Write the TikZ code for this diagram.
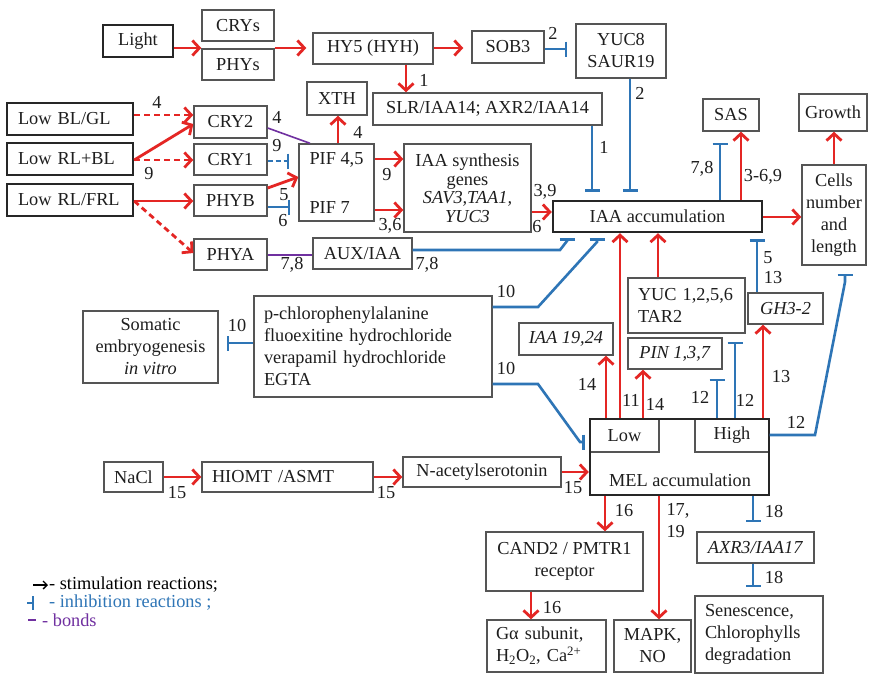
\documentclass[tikz,border=0pt]{standalone}
\usepackage{fontspec}
\setmainfont{Liberation Serif}
\usetikzlibrary{arrows.meta}
\definecolor{stimred}{RGB}{228,38,36}
\definecolor{inhblue}{RGB}{46,117,182}
\definecolor{bondpurple}{RGB}{112,48,160}
\definecolor{boxgray}{RGB}{85,85,85}
\definecolor{txt}{RGB}{30,30,30}
% box from its corner coordinates: [options]{name}{x1}{y1}{x2}{y2}{text}
\newcommand\nodebox[7][]{\node[box,minimum width={#5-#3},minimum height={#6-#4},#1] (#2) at ({(#3+#5)/2},{(#4+#6)/2}) {#7};}
\begin{document}
\begin{tikzpicture}[x=1pt,y=-1pt,
  every node/.style={font=\fontsize{18.3}{22}\selectfont},
  box/.style={draw=boxgray,line width=1.4pt,inner sep=1pt,fill=white,text=txt,align=center},
  thickbox/.style={draw=black!85,line width=2.4pt},
  leftbox/.style={align=left,text width=104pt,inner xsep=11pt},
  lbl/.style={text=txt,inner sep=0pt},
  stim/.style={draw=stimred,line width=2.8pt,-{Straight Barb[length=7pt,width=15pt]}},
  stimd/.style={stim,dash pattern=on 6pt off 4pt},
  inh/.style={draw=inhblue,line width=2.6pt,-{Bar[width=15pt]}},
  inhd/.style={inh,dash pattern=on 5pt off 3pt},
  bond/.style={draw=bondpurple,line width=1.6pt}]
\fill[white] (0,0) rectangle (871,675);
\useasboundingbox (0,0) rectangle (871,675);

% light signalling
\nodebox[thickbox]{light}{103}{25}{173}{57}{Light}
\nodebox{crys}{202}{10}{274}{41}{CRYs}
\nodebox{phys}{202}{49}{274}{80}{PHYs}
\nodebox{hy5}{313}{33}{433}{64}{HY5 (HYH)}
\nodebox{sob3}{472}{31}{544}{63}{SOB3}
\nodebox{yuceight}{576}{24}{666}{78}{YUC8\\SAUR19}
\nodebox{slr}{373}{93}{602}{125}{SLR/IAA14; AXR2/IAA14}
\nodebox{xth}{307}{82}{367}{115}{XTH}
\nodebox[align=left]{pif}{299}{144}{374}{221}{PIF 4,5\\[27pt]PIF 7}
\nodebox[font=\fontsize{18.3}{18.5}\selectfont]{iaasyn}{404}{144}{531}{232}{IAA synthesis\\genes\\\textit{SAV3,TAA1,}\\\textit{YUC3}}
\nodebox[thickbox]{iaaacc}{553}{201}{762}{232}{IAA accumulation}
\nodebox{sas}{703}{99}{759}{131}{SAS}
\nodebox{growth}{799}{94}{867}{131}{Growth}
\nodebox{cells}{802}{165}{866}{265}{Cells\\number\\and\\length}

% light quality inputs and photoreceptors
\nodebox[thickbox,leftbox]{lowblgl}{7}{103}{133}{135}{Low BL/GL}
\nodebox[thickbox,leftbox]{lowrlbl}{7}{143}{133}{175}{Low RL+BL}
\nodebox[thickbox,leftbox]{lowrlfrl}{7}{184}{133}{216}{Low RL/FRL}
\nodebox{cry2}{194}{106}{267}{138}{CRY2}
\nodebox{cry1}{194}{144}{267}{175}{CRY1}
\nodebox{phyb}{194}{185}{267}{216}{PHYB}
\nodebox{phya}{194}{239}{267}{270}{PHYA}
\nodebox{auxiaa}{313}{238}{412}{269}{AUX/IAA}

% inhibitors and melatonin side
\nodebox[align=left,text width=218pt,inner xsep=10pt]{pchl}{254}{296}{492}{397}{p-chlorophenylalanine\\fluoexitine hydrochloride\\verapamil hydrochloride\\EGTA}
\nodebox{somatic}{83}{311}{218}{383}{Somatic\\embryogenesis\\\textit{in vitro}}
\nodebox{iaa1924}{519}{323}{613}{355}{\textit{IAA 19,24}}
\nodebox[align=left,text width=97pt,inner xsep=10pt]{yuc}{628}{278}{745}{333}{YUC 1,2,5,6\\TAR2}
\nodebox{pin}{628}{338}{722}{369}{\textit{PIN 1,3,7}}
\nodebox{gh3}{748}{293}{823}{324}{\textit{GH3-2}}
\nodebox{low}{590}{419}{659}{452}{Low}
\nodebox{high}{695}{419}{769}{452}{High}
\nodebox[thickbox,fill=none]{mel}{590}{419}{769}{495}{}
\node[lbl] (meltxt) at (680,480) {MEL accumulation};
\nodebox{nacl}{104}{462}{163}{492}{NaCl}
\nodebox[align=left,text width=151pt,inner xsep=10pt]{hiomt}{202}{462}{373}{492}{HIOMT /ASMT}
\nodebox{nacet}{403}{457}{561}{487}{N-acetylserotonin}
\nodebox{cand2}{486}{532}{643}{591}{CAND2 / PMTR1\\receptor}
\nodebox[align=left,text width=101pt,inner xsep=9pt]{galpha}{487}{620}{606}{672}{Gα subunit,\\H\textsubscript{2}O\textsubscript{2}, Ca\textsuperscript{2+}}
\nodebox{mapk}{614}{620}{691}{672}{MAPK,\\NO}
\nodebox{axr3}{697}{532}{814}{563}{\textit{AXR3/IAA17}}
\nodebox[align=left,text width=108pt,inner xsep=10pt]{senes}{695}{596}{823}{673}{Senescence,\\Chlorophylls\\degradation}

% connectors: light pathway
\draw[stim] (light.east |- 0,48) -- (crys.west |- 0,48);
\draw[stim,shorten >=6pt] (crys.east |- 0,48) -- (hy5.west |- 0,48);
\draw[stim,shorten >=8pt] (hy5.east |- 0,48) -- (sob3.west |- 0,48);
\draw[inh,shorten >=8pt] (sob3.east |- 0,49) -- (yuceight.west |- 0,49);
\draw[stim] (406,0 |- hy5.south) -- (406,0 |- slr.north);
\draw[stim] (338,0 |- pif.north) -- (338,0 |- xth.south);
\draw[stimd] (lowblgl.east |- 0,115) -- (cry2.west |- 0,115);
\draw[stim] (lowrlbl.east |- 0,160) -- (cry2.west |- 0,124);
\draw[stimd] (lowrlbl.east |- 0,160) -- (cry1.west |- 0,160);
\draw[stim] (lowrlfrl.east |- 0,201) -- (phyb.west |- 0,201);
\draw[stimd] (lowrlfrl.east |- 0,201) -- (phya.west |- 0,253);
\draw[bond] (cry2.east |- 0,128) -- (310,0 |- pif.north);
\draw[inhd,shorten >=9pt] (cry1.east |- 0,161) -- (pif.west |- 0,161);
\draw[stim] (phyb.east |- 0,188) -- (pif.west |- 0,177);
\draw[inh,shorten >=8pt] (phyb.east |- 0,207) -- (pif.west |- 0,207);
\draw[bond] (phya.east |- 0,255) -- (auxiaa.west |- 0,255);
\draw[stim] (pif.east |- 0,159) -- (iaasyn.west |- 0,159);
\draw[stim] (pif.east |- 0,210) -- (iaasyn.west |- 0,210);
\draw[stim] (iaasyn.east |- 0,212) -- (iaaacc.west |- 0,212);
\draw[inh,shorten >=8pt] (592,0 |- slr.south) -- (592,0 |- iaaacc.north);
\draw[inh,shorten >=8pt] (630,0 |- yuceight.south) -- (630,0 |- iaaacc.north);
\draw[inh,shorten >=5pt] (auxiaa.east |- 0,250) -- (560,250) -- (567,241) -- (567,0 |- iaaacc.south);
\draw[inh,shorten >=5pt] (pchl.east |- 0,307) -- (538,307) -- (597,242) -- (597,0 |- iaaacc.south);
\draw[inh,shorten >=4pt] (pchl.east |- 0,384) -- (538,384) -- (580,442) -- (mel.west |- 0,442);
\draw[inh,shorten >=8pt] (pchl.west |- 0,343) -- (somatic.east |- 0,343);
\draw[inh,shorten >=11pt] (720,0 |- iaaacc.north) -- (720,0 |- sas.south);
\draw[stim] (741,0 |- iaaacc.north) -- (741,0 |- sas.south);
\draw[stim] (iaaacc.east |- 0,217) -- (cells.west |- 0,217);
\draw[stim] (834,0 |- cells.north) -- (834,0 |- growth.south);
\draw[inh,shorten >=6pt] (757,0 |- gh3.north) -- (757,0 |- iaaacc.south);
\draw[stim] (658,0 |- yuc.north) -- (658,0 |- iaaacc.south);

% connectors: melatonin
\draw[stim] (606,0 |- mel.north) -- (606,0 |- iaa1924.south);
\draw[stim] (620,0 |- mel.north) -- (620,0 |- iaaacc.south);
\draw[stim] (643,0 |- mel.north) -- (643,0 |- pin.south);
\draw[inh,shorten >=9pt] (717,0 |- mel.north) -- (717,0 |- pin.south);
\draw[inh,shorten >=8pt] (735,0 |- mel.north) -- (735,0 |- yuc.south);
\draw[stim] (763,0 |- mel.north) -- (763,0 |- gh3.south);
\draw[inh,shorten >=8pt] (high.east |- 0,435) -- (815,435) -- (845,282) -- (845,0 |- cells.south);
\draw[stim] (nacl.east |- 0,477) -- (hiomt.west |- 0,477);
\draw[stim] (hiomt.east |- 0,477) -- (nacet.west |- 0,477);
\draw[stim] (nacet.east |- 0,472) -- (mel.west |- 0,472);
\draw[stim] (605,0 |- mel.south) -- (605,0 |- cand2.north);
\draw[stim] (531,0 |- cand2.south) -- (531,0 |- galpha.north);
\draw[stim] (659,0 |- mel.south) -- (659,0 |- mapk.north);
\draw[inh,shorten >=9pt] (753,0 |- mel.south) -- (753,0 |- axr3.north);
\draw[inh,shorten >=8pt] (753,0 |- axr3.south) -- (753,0 |- senes.north);

% reference numbers
\node[lbl] (t1) at (157,102) {4};
\node[lbl] (t2) at (149,174) {9};
\node[lbl] (t3) at (277,117) {4};
\node[lbl] (t4) at (277,146) {9};
\node[lbl] (t5) at (284,195) {5};
\node[lbl] (t6) at (283,221) {6};
\node[lbl] (t7) at (292,265) {7,8};
\node[lbl] (t8) at (427,265) {7,8};
\node[lbl] (t9) at (424,80) {1};
\node[lbl] (t10) at (553,33) {2};
\node[lbl] (t11) at (358,132) {4};
\node[lbl] (t12) at (387,175) {9};
\node[lbl] (t13) at (390,226) {3,6};
\node[lbl] (t14) at (545,192) {3,9};
\node[lbl] (t15) at (537,227) {6};
\node[lbl] (t16) at (604,147) {1};
\node[lbl] (t17) at (640,93) {2};
\node[lbl] (t18) at (702,169) {7,8};
\node[lbl] (t19) at (763,177) {3-6,9};
\node[lbl] (t20) at (768,258) {5};
\node[lbl] (t21) at (773,278) {13};
\node[lbl] (t22) at (237,325) {10};
\node[lbl] (t23) at (506,292) {10};
\node[lbl] (t24) at (506,368) {10};
\node[lbl] (t25) at (587,384) {14};
\node[lbl] (t26) at (631,400) {11};
\node[lbl] (t27) at (655,404) {14};
\node[lbl] (t28) at (700,397) {12};
\node[lbl] (t29) at (745,400) {12};
\node[lbl] (t30) at (781,377) {13};
\node[lbl] (t31) at (796,422) {12};
\node[lbl] (t32) at (177,493) {15};
\node[lbl] (t33) at (386,493) {15};
\node[lbl] (t34) at (573,488) {15};
\node[lbl] (t35) at (624,511) {16};
\node[lbl] (t36) at (552,608) {16};
\node[lbl,align=left] (t37) at (678,521) {17,\\19};
\node[lbl] (t38) at (774,511) {18};
\node[lbl] (t39) at (774,577) {18};

% legend
\draw[black,line width=1.3pt,-{Straight Barb[length=4pt,width=8pt]}] (33,585) -- (48,585);
\node[lbl,text=black,anchor=west] (legstim) at (49,585) {- stimulation reactions;};
\draw[inhblue,line width=1.4pt] (27,603) -- (33,603) (33,596) -- (33,610);
\node[lbl,text=inhblue,anchor=west] (leginh) at (49,603) {- inhibition reactions ;};
\draw[bondpurple,line width=1.4pt] (28,620) -- (36,620);
\node[lbl,text=bondpurple,anchor=west] (legbond) at (42,620) {- bonds};
\end{tikzpicture}
\end{document}
